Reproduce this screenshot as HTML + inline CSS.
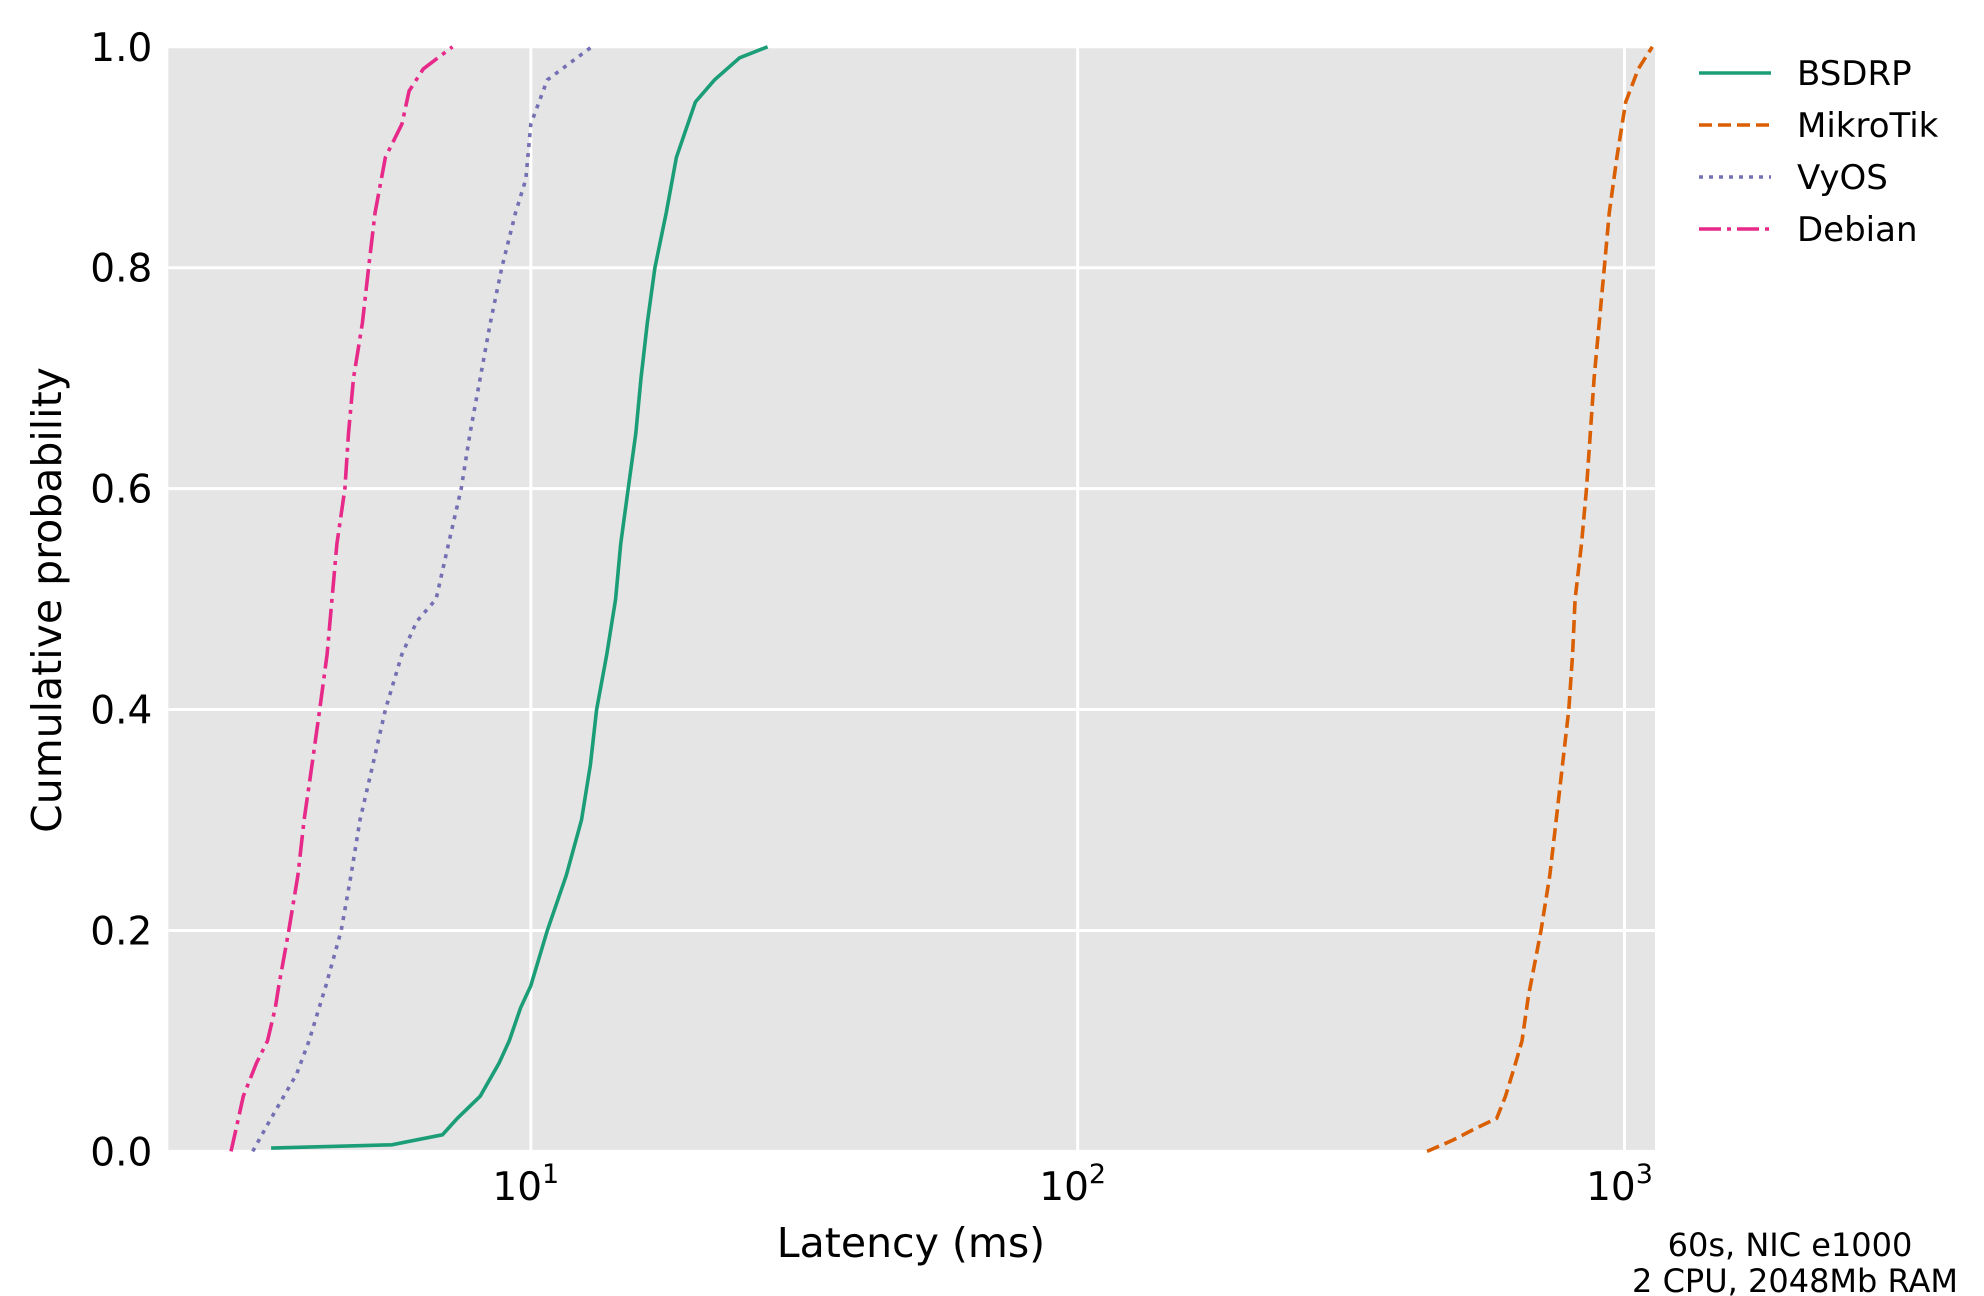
<!DOCTYPE html>
<html><head><meta charset="utf-8"><style>
html,body{margin:0;padding:0;background:#fff;}
svg{display:block;font-family:"DejaVu Sans","Liberation Sans",sans-serif;}
</style></head><body>
<svg id="chart" width="1984" height="1296" viewBox="0 0 1984 1296" xmlns="http://www.w3.org/2000/svg">
<rect x="168.3" y="46.8" width="1486.7" height="1104.6" fill="#e5e5e5"/>
<g id="grid"></g>
<g id="series"></g>
<g id="ticks"></g>
<text x="911" y="1257" font-size="41" text-anchor="middle">Latency (ms)</text>
<text x="61" y="600" font-size="41" text-anchor="middle" transform="rotate(-90 61 600)">Cumulative probability</text>
<g id="legend"></g>
<text font-size="32" text-anchor="middle"><tspan x="1790" y="1256">60s, NIC e1000</tspan><tspan x="1795" y="1292">2 CPU, 2048Mb RAM</tspan></text>
</svg>
<script>
const names = ["BSDRP","MikroTik","VyOS","Debian"];
const colors = ["#1b9e77","#d95f02","#7570b3","#e7298a"];
const dashes = ["", "13 6", "4 6", "22 6 4 6"];
const bsdrpLat = [3.35,5.57,6.89,7.34,8.08,8.75,9.13,9.58,10.0,10.72,11.61,12.38,12.85,13.19,13.77,14.29,14.60,15.07,15.56,15.90,16.33,16.86,17.69,18.46,20.00,21.67,24.09,27.10];
const bsdrpP = [0.003,0.006,0.015,0.03,0.05,0.08,0.1,0.13,0.15,0.2,0.25,0.3,0.35,0.4,0.45,0.5,0.55,0.6,0.65,0.7,0.75,0.8,0.85,0.9,0.95,0.97,0.99,1.0];
const mikroLat = [435.5,484.3,530.3,583.7,605.9,632.3,649.4,667.0,703.5,730.2,749.9,770.2,791.0,803.7,812.3,834.2,852.2,865.9,879.9,898.8,918.3,937.9,968.5,1005,1060,1124];
const mikroP = [0,0.01,0.02,0.03,0.05,0.08,0.1,0.14,0.2,0.25,0.3,0.35,0.4,0.45,0.5,0.55,0.6,0.65,0.7,0.75,0.8,0.85,0.9,0.95,0.98,1.0];
const vyosLat = [3.10,3.35,3.73,3.93,4.22,4.50,4.69,4.87,5.14,5.42,5.81,6.19,6.71,7.07,7.46,7.74,8.08,8.43,8.85,9.38,9.79,10.0,10.72,12.92];
const vyosP = [0,0.03,0.07,0.1,0.15,0.2,0.25,0.3,0.35,0.4,0.45,0.48,0.5,0.55,0.6,0.65,0.7,0.75,0.8,0.85,0.88,0.93,0.97,1.0];
const debianLat = [2.83,2.89,2.98,3.15,3.30,3.41,3.46,3.61,3.75,3.85,3.98,4.11,4.24,4.33,4.42,4.57,4.64,4.74,4.92,5.05,5.19,5.42,5.81,5.99,6.36,7.19];
const debianP = [0,0.02,0.05,0.08,0.1,0.13,0.15,0.2,0.25,0.3,0.35,0.4,0.45,0.5,0.55,0.6,0.65,0.7,0.75,0.8,0.85,0.9,0.93,0.96,0.98,1.0];
const yTicks = [0,0.2,0.4,0.6,0.8,1.0];
const yTickLabels = ["0.0","0.2","0.4","0.6","0.8","1.0"];
const xTickExps = [1,2,3];

const NS="http://www.w3.org/2000/svg";
const L=168.3,R=1655,T=46.8,B=1151.4;
const xmin=Math.log10(2.173), xmax=Math.log10(1137);
function xs(v){return L+(Math.log10(v)-xmin)/(xmax-xmin)*(R-L);}
function ys(p){return B-p*(B-T);}
function mk(tag,attrs,parent){const e=document.createElementNS(NS,tag);for(const k in attrs)e.setAttribute(k,attrs[k]);parent.appendChild(e);return e;}
const grid=document.getElementById('grid'),ticks=document.getElementById('ticks');
yTicks.forEach((p,i)=>{
  const g=mk('line',{x1:L,x2:R,y1:ys(p),y2:ys(p),stroke:'#fff','stroke-width':3},grid);
  
  
  const t=mk('text',{x:L-16,y:ys(p)+14,'font-size':39,'text-anchor':'end'},ticks);
  t.textContent=yTickLabels[i];
  
  
});
xTickExps.forEach(e=>{
  const x=xs(Math.pow(10,e));
  const g=mk('line',{x1:x,x2:x,y1:T,y2:B,stroke:'#fff','stroke-width':3},grid);
  
  
  const t=mk('text',{x:x-5,y:1200,'font-size':39,'text-anchor':'middle'},ticks);
  t.textContent='10';
  const s=document.createElementNS(NS,'tspan');s.setAttribute('dy','-17');s.setAttribute('font-size','27');s.textContent=String(e);t.appendChild(s);
  
  
});
const series=document.getElementById('series');
const data=[[bsdrpLat,bsdrpP],[mikroLat,mikroP],[vyosLat,vyosP],[debianLat,debianP]];
data.forEach((d,i)=>{
  const pts=d[0].map((v,j)=>xs(v).toFixed(1)+','+ys(d[1][j]).toFixed(1)).join(' ');
  const pl=mk('polyline',{points:pts,fill:'none',stroke:colors[i],'stroke-width':3.6,'stroke-dasharray':dashes[i]},series);
  
  
});
const leg=document.getElementById('legend');
names.forEach((n,i)=>{
  const y=73+i*52;
  const ln=mk('line',{x1:1699,x2:1771,y1:y,y2:y,stroke:colors[i],'stroke-width':3.6,'stroke-dasharray':dashes[i]},leg);
  
  
  const t=mk('text',{x:1797,y:y+12,'font-size':34},leg);
  t.textContent=n;
  
  
});
</script>
</body></html>
